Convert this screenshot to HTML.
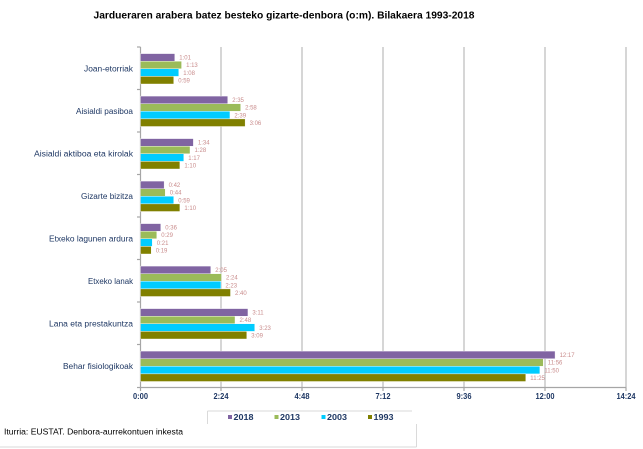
<!DOCTYPE html>
<html><head><meta charset="utf-8"><style>
html,body{margin:0;padding:0;background:#fff;}
svg{display:block;}
text{font-family:"Liberation Sans",sans-serif;}
</style></head><body>
<svg width="643" height="449" viewBox="0 0 643 449" xmlns="http://www.w3.org/2000/svg">
<rect width="643" height="449" fill="#fff"/>
<!-- Title -->
<text x="93.5" y="18.5" font-size="10" font-weight="bold" fill="#000" textLength="381" lengthAdjust="spacingAndGlyphs">Jardueraren arabera batez besteko gizarte-denbora (o:m). Bilakaera 1993-2018</text>

<!-- gridlines -->
<g stroke="#C8C8C8" stroke-width="1.5">
<line x1="221" y1="47" x2="221" y2="387"/>
<line x1="302" y1="47" x2="302" y2="387"/>
<line x1="383" y1="47" x2="383" y2="387"/>
<line x1="464" y1="47" x2="464" y2="387"/>
<line x1="545" y1="47" x2="545" y2="387"/>
<line x1="626" y1="47" x2="626" y2="387"/>
</g>
<!-- axes -->
<g stroke="#A6A6A6" stroke-width="1.2">
<line x1="140.5" y1="47" x2="140.5" y2="387.5"/>
<line x1="140" y1="387.5" x2="626.5" y2="387.5"/>
<line x1="137" y1="47" x2="140.5" y2="47"/>
<line x1="137" y1="89.5" x2="140.5" y2="89.5"/>
<line x1="137" y1="132" x2="140.5" y2="132"/>
<line x1="137" y1="174.5" x2="140.5" y2="174.5"/>
<line x1="137" y1="217" x2="140.5" y2="217"/>
<line x1="137" y1="259.5" x2="140.5" y2="259.5"/>
<line x1="137" y1="302" x2="140.5" y2="302"/>
<line x1="137" y1="344.5" x2="140.5" y2="344.5"/>
<line x1="137" y1="387.5" x2="140.5" y2="387.5"/>
<line x1="140.5" y1="387.5" x2="140.5" y2="391"/>
<line x1="221" y1="387.5" x2="221" y2="391"/>
<line x1="302" y1="387.5" x2="302" y2="391"/>
<line x1="383" y1="387.5" x2="383" y2="391"/>
<line x1="464" y1="387.5" x2="464" y2="391"/>
<line x1="545" y1="387.5" x2="545" y2="391"/>
<line x1="626" y1="387.5" x2="626" y2="391"/>
</g>

<!-- bars -->
<g stroke="#fff" stroke-width="0.4">
<!-- G0 Joan-etorriak -->
<rect x="140.5" y="53.6" width="34.31" height="7.6" fill="#8064A2"/>
<rect x="140.5" y="61.2" width="41.06" height="7.6" fill="#9BBB59"/>
<rect x="140.5" y="68.8" width="38.25" height="7.6" fill="#00CCFF"/>
<rect x="140.5" y="76.4" width="33.19" height="7.6" fill="#808000"/>
<!-- G1 -->
<rect x="140.5" y="96.1" width="87.19" height="7.6" fill="#8064A2"/>
<rect x="140.5" y="103.7" width="100.13" height="7.6" fill="#9BBB59"/>
<rect x="140.5" y="111.3" width="89.44" height="7.6" fill="#00CCFF"/>
<rect x="140.5" y="118.9" width="104.63" height="7.6" fill="#808000"/>
<!-- G2 -->
<rect x="140.5" y="138.6" width="52.88" height="7.6" fill="#8064A2"/>
<rect x="140.5" y="146.2" width="49.5" height="7.6" fill="#9BBB59"/>
<rect x="140.5" y="153.8" width="43.31" height="7.6" fill="#00CCFF"/>
<rect x="140.5" y="161.4" width="39.38" height="7.6" fill="#808000"/>
<!-- G3 -->
<rect x="140.5" y="181.1" width="23.63" height="7.6" fill="#8064A2"/>
<rect x="140.5" y="188.7" width="24.75" height="7.6" fill="#9BBB59"/>
<rect x="140.5" y="196.3" width="33.19" height="7.6" fill="#00CCFF"/>
<rect x="140.5" y="203.9" width="39.38" height="7.6" fill="#808000"/>
<!-- G4 -->
<rect x="140.5" y="223.6" width="20.25" height="7.6" fill="#8064A2"/>
<rect x="140.5" y="231.2" width="16.31" height="7.6" fill="#9BBB59"/>
<rect x="140.5" y="238.8" width="11.81" height="7.6" fill="#00CCFF"/>
<rect x="140.5" y="246.4" width="10.69" height="7.6" fill="#808000"/>
<!-- G5 -->
<rect x="140.5" y="266.1" width="70.31" height="7.6" fill="#8064A2"/>
<rect x="140.5" y="273.7" width="81" height="7.6" fill="#9BBB59"/>
<rect x="140.5" y="281.3" width="80.44" height="7.6" fill="#00CCFF"/>
<rect x="140.5" y="288.9" width="90" height="7.6" fill="#808000"/>
<!-- G6 -->
<rect x="140.5" y="308.6" width="107.44" height="7.6" fill="#8064A2"/>
<rect x="140.5" y="316.2" width="94.5" height="7.6" fill="#9BBB59"/>
<rect x="140.5" y="323.8" width="114.19" height="7.6" fill="#00CCFF"/>
<rect x="140.5" y="331.4" width="106.31" height="7.6" fill="#808000"/>
<!-- G7 -->
<rect x="140.5" y="351.1" width="414.56" height="7.6" fill="#8064A2"/>
<rect x="140.5" y="358.7" width="402.75" height="7.6" fill="#9BBB59"/>
<rect x="140.5" y="366.3" width="399.38" height="7.6" fill="#00CCFF"/>
<rect x="140.5" y="373.9" width="385.31" height="7.6" fill="#808000"/>
</g>

<!-- value labels -->
<g font-size="6" fill="#C98C8C">
<text x="179.3" y="59.6">1:01</text>
<text x="186.1" y="67.2">1:13</text>
<text x="183.3" y="74.8">1:08</text>
<text x="178.2" y="82.4">0:59</text>

<text x="232.2" y="102.1">2:35</text>
<text x="245.1" y="109.7">2:58</text>
<text x="234.4" y="117.3">2:39</text>
<text x="249.6" y="124.9">3:06</text>

<text x="197.9" y="144.6">1:34</text>
<text x="194.5" y="152.2">1:28</text>
<text x="188.3" y="159.8">1:17</text>
<text x="184.4" y="167.4">1:10</text>

<text x="168.6" y="187.1">0:42</text>
<text x="169.8" y="194.7">0:44</text>
<text x="178.2" y="202.3">0:59</text>
<text x="184.4" y="209.9">1:10</text>

<text x="165.3" y="229.6">0:36</text>
<text x="161.3" y="237.2">0:29</text>
<text x="156.8" y="244.8">0:21</text>
<text x="155.7" y="252.4">0:19</text>

<text x="215.3" y="272.1">2:05</text>
<text x="226" y="279.7">2:24</text>
<text x="225.4" y="287.3">2:23</text>
<text x="235" y="294.9">2:40</text>

<text x="252.4" y="314.6">3:11</text>
<text x="239.5" y="322.2">2:48</text>
<text x="259.2" y="329.8">3:23</text>
<text x="251.3" y="337.4">3:09</text>

<text x="559.6" y="357.1">12:17</text>
<text x="547.8" y="364.7">11:56</text>
<text x="544.4" y="372.3">11:50</text>
<text x="530.3" y="379.9">11:25</text>
</g>

<!-- category labels -->
<g font-size="8" fill="#1F3864" text-anchor="end">
<text x="133" y="71.3" textLength="49" lengthAdjust="spacingAndGlyphs">Joan-etorriak</text>
<text x="133" y="113.8" textLength="57" lengthAdjust="spacingAndGlyphs">Aisialdi pasiboa</text>
<text x="133" y="156.3" textLength="99" lengthAdjust="spacingAndGlyphs">Aisialdi aktiboa eta kirolak</text>
<text x="133" y="198.8" textLength="52" lengthAdjust="spacingAndGlyphs">Gizarte bizitza</text>
<text x="133" y="241.3" textLength="84" lengthAdjust="spacingAndGlyphs">Etxeko lagunen ardura</text>
<text x="133" y="283.8" textLength="45" lengthAdjust="spacingAndGlyphs">Etxeko lanak</text>
<text x="133" y="326.3" textLength="84" lengthAdjust="spacingAndGlyphs">Lana eta prestakuntza</text>
<text x="133" y="368.8" textLength="70" lengthAdjust="spacingAndGlyphs">Behar fisiologikoak</text>
</g>

<!-- tick labels -->
<g font-size="8" font-weight="bold" fill="#1F3864" text-anchor="middle">
<text x="140.5" y="398.8" textLength="15" lengthAdjust="spacingAndGlyphs">0:00</text>
<text x="221" y="398.8" textLength="15" lengthAdjust="spacingAndGlyphs">2:24</text>
<text x="302" y="398.8" textLength="15" lengthAdjust="spacingAndGlyphs">4:48</text>
<text x="383" y="398.8" textLength="15" lengthAdjust="spacingAndGlyphs">7:12</text>
<text x="464" y="398.8" textLength="15" lengthAdjust="spacingAndGlyphs">9:36</text>
<text x="545" y="398.8" textLength="19" lengthAdjust="spacingAndGlyphs">12:00</text>
<text x="626" y="398.8" textLength="19" lengthAdjust="spacingAndGlyphs">14:24</text>
</g>

<!-- legend -->
<g stroke="#DADADA" stroke-width="1" fill="none">
<line x1="207.5" y1="411" x2="412" y2="411"/>
<line x1="207.5" y1="411" x2="207.5" y2="424"/>
<line x1="416.5" y1="424" x2="416.5" y2="447"/>
<line x1="0" y1="447" x2="416.5" y2="447"/>
</g>
<rect x="228" y="415" width="4" height="4" fill="#8064A2"/>
<rect x="274.5" y="415" width="4" height="4" fill="#9BBB59"/>
<rect x="321.5" y="415" width="4" height="4" fill="#00CCFF"/>
<rect x="368" y="415" width="4" height="4" fill="#808000"/>
<g font-size="8" font-weight="bold" fill="#1F3864">
<text x="233.5" y="420" textLength="20" lengthAdjust="spacingAndGlyphs">2018</text>
<text x="280" y="420" textLength="20" lengthAdjust="spacingAndGlyphs">2013</text>
<text x="327" y="420" textLength="20" lengthAdjust="spacingAndGlyphs">2003</text>
<text x="373.5" y="420" textLength="20" lengthAdjust="spacingAndGlyphs">1993</text>
</g>

<!-- source -->
<text x="4" y="434.5" font-size="8" fill="#000" textLength="179" lengthAdjust="spacingAndGlyphs">Iturria: EUSTAT. Denbora-aurrekontuen inkesta</text>
</svg>
</body></html>
